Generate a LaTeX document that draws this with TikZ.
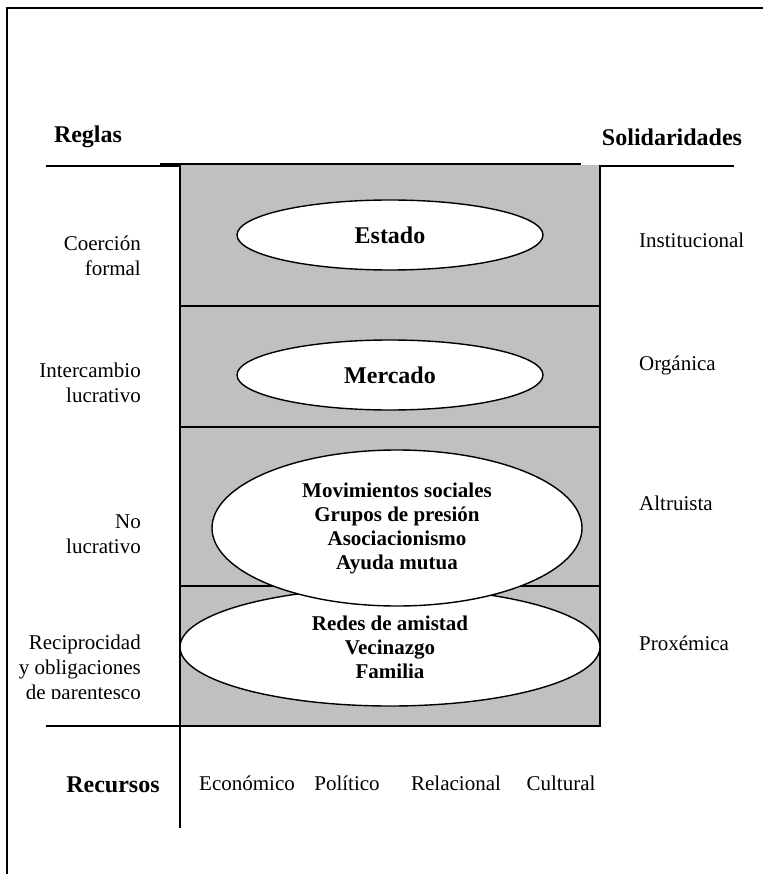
\documentclass[tikz,border=0pt]{standalone}
\usepackage{fontspec}
\setmainfont{Liberation Serif}
\usetikzlibrary{shapes.geometric}
\definecolor{boxgray}{RGB}{192,192,192}

\begin{document}
\begin{tikzpicture}[x=1pt, y=-1pt,
    elli/.style={ellipse, draw, line width=1.4pt, fill=white, inner sep=0pt, align=center,
        font=\bfseries\fontsize{21}{24}\selectfont},
    head/.style={inner sep=0pt, font=\bfseries\fontsize{24}{28}\selectfont},
    lbl/.style={inner sep=0pt, font=\fontsize{21}{25}\selectfont}]
        \useasboundingbox (0,0) rectangle (763,874);

        % Frame
        \draw[line width=1.8pt] (7,874) -- (7,8) -- (763,8);

        % Headings
        \node[head] (reglas) at (88,137) {Reglas};
        \node[head] (solid) at (672,137) {Solidaridades};
        \draw[line width=1.2pt] (46,166) -- (734,166);

        % Grey box and rows
        \fill[boxgray] (180,165) rectangle (600,726);
        \draw[line width=2pt] (160,164) -- (581,164);
        \draw[line width=2pt] (600,165) -- (600,727);
        \foreach \yy in {306,427,586}
            \draw[line width=1.8pt] (180,\yy) -- (600,\yy);
        \draw[line width=2pt] (46,726) -- (601,726);
        \draw[line width=2pt] (180,165) -- (180,828);

        % Ellipses
        \node[elli, minimum width=306pt, minimum height=70pt,
            font=\bfseries\fontsize{24}{28}\selectfont] (estado) at (390,235) {Estado};
        \node[elli, minimum width=306pt, minimum height=70pt,
            font=\bfseries\fontsize{24}{28}\selectfont] (mercado) at (390,375) {Mercado};
        \node[elli, minimum width=420pt, minimum height=118pt] (redes) at (390,647)
            {Redes de amistad\\Vecinazgo\\Familia};
        \node[elli, minimum width=370pt, minimum height=156pt] (movs) at (397,528)
            {Movimientos sociales\\Grupos de presión\\Asociacionismo\\Ayuda mutua};

        % Rules (left)
        \node[lbl, align=right, anchor=east] (coer) at (141,256) {Coerción\\formal};
        \node[lbl, align=right, anchor=east] (inter) at (141,383) {Intercambio\\lucrativo};
        \node[lbl, align=right, anchor=east] (nolucr) at (141,534) {No\\lucrativo};
        \begin{scope}
            \clip (0,0) rectangle (180,698);
            \node[lbl, align=right, anchor=east] (recip) at (141,669)
                {Reciprocidad\\y obligaciones\\de parentesco};
        \end{scope}

        % Solidarities (right)
        \node[lbl, anchor=west] (inst) at (639,240) {Institucional};
        \node[lbl, anchor=west] (organ) at (639,365) {Orgánica};
        \node[lbl, anchor=west] (altr) at (639,503) {Altruista};
        \node[lbl, anchor=west] (prox) at (639,643) {Proxémica};

        % Resources
        \node[head] (recursos) at (113,785) {Recursos};
        \node[lbl] (econ) at (247,783) {Económico};
        \node[lbl] (polit) at (347,783) {Político};
        \node[lbl] (relac) at (456,783) {Relacional};
        \node[lbl] (cult) at (561,783) {Cultural};
    \end{tikzpicture}
\end{document}
